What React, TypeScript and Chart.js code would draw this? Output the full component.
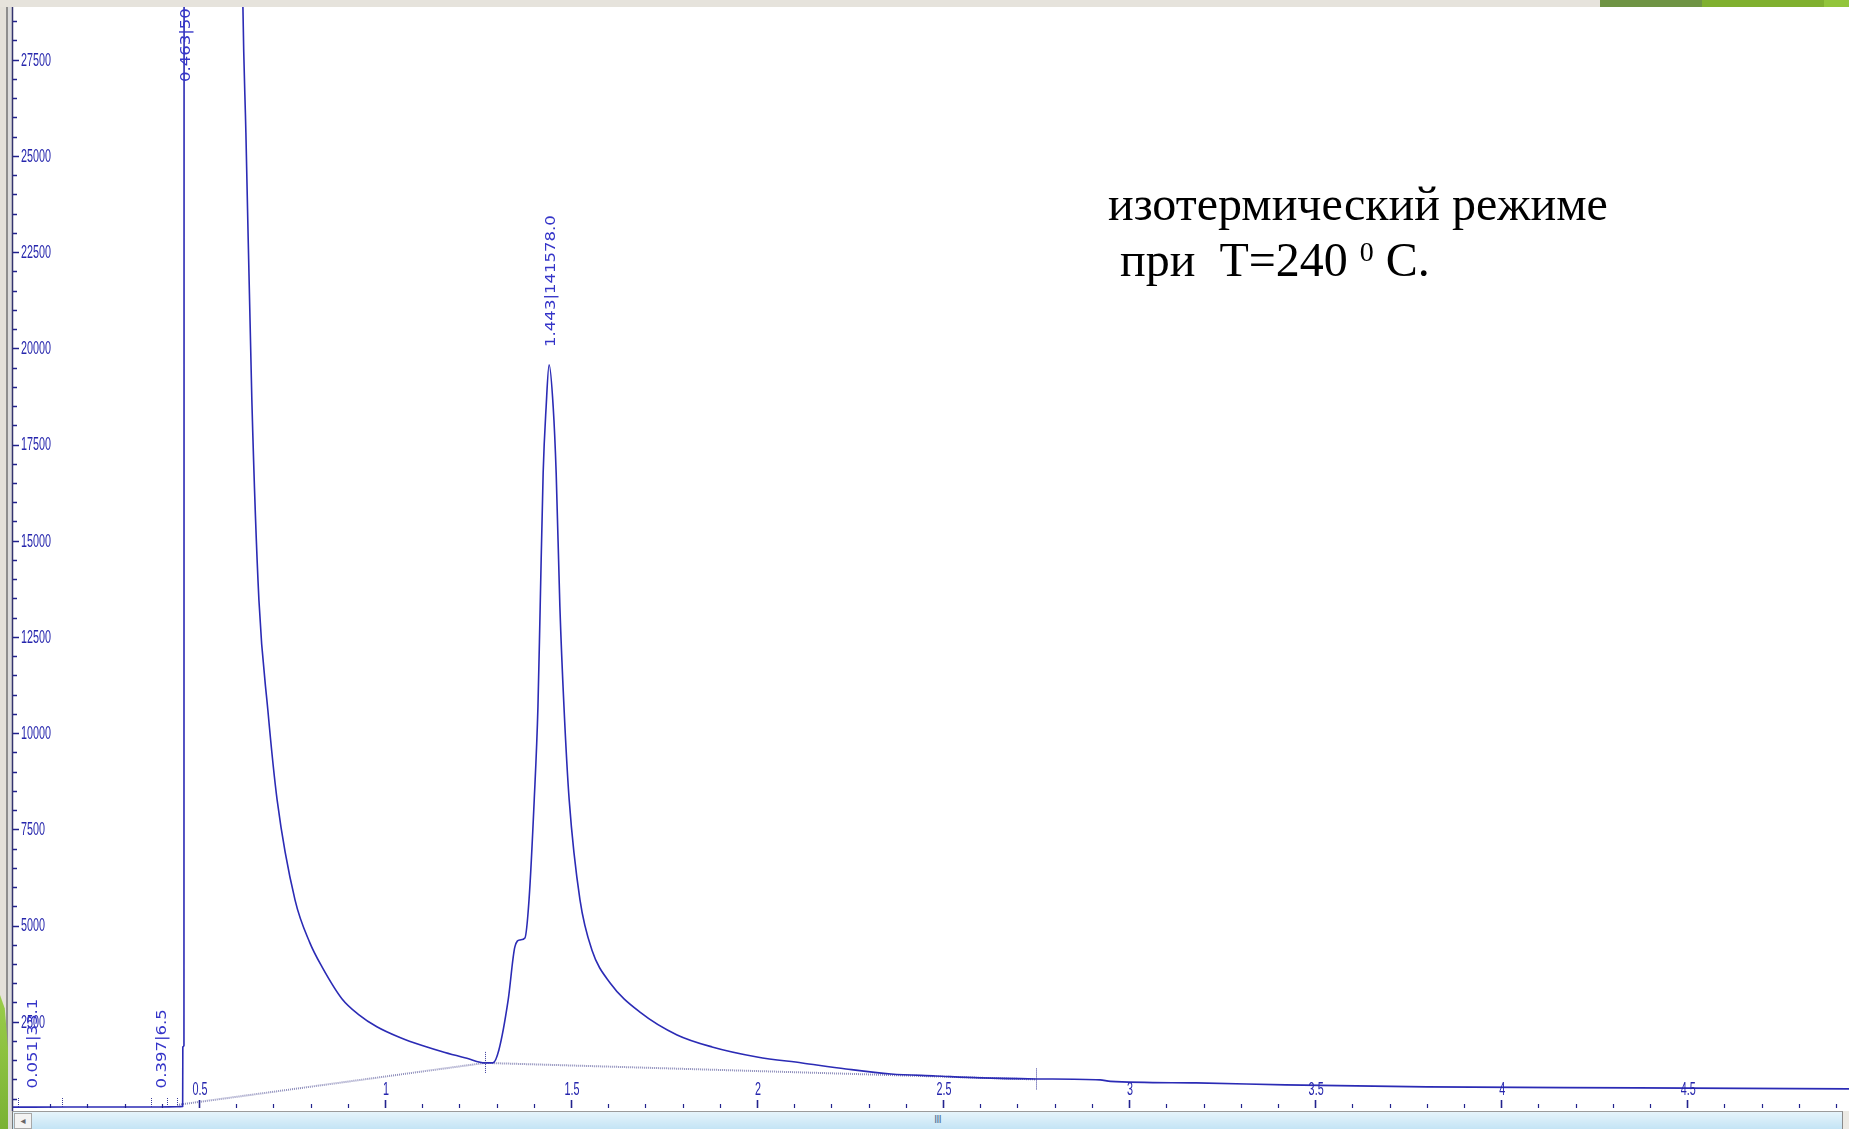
import React, { useEffect, useRef } from 'react';
import { Chart, registerables } from 'chart.js';

Chart.register(...registerables);

// ---- data ----
const signalTimes = [
  0.0, 0.05, 0.395, 0.44, 0.456, 0.4565, 0.4595, 0.46, 0.54, 0.618, 0.626, 0.642, 0.661, 0.685, 0.71,
  0.758, 0.798, 0.831, 0.884, 0.93, 0.978, 1.04, 1.1, 1.161, 1.22, 1.269, 1.29, 1.306, 1.331, 1.349,
  1.363, 1.376, 1.387, 1.401, 1.411, 1.417, 1.425, 1.433, 1.441, 1.452, 1.46, 1.47, 1.481, 1.495,
  1.524, 1.556, 1.605, 1.688, 1.785, 1.879, 2.0, 2.121, 2.239, 2.36, 2.48, 2.6, 2.75, 2.922, 2.95,
  3.18, 3.42, 3.8, 4.366, 4.935,
];
const signalValues = [
  280, 282, 284, 290, 300, 1845, 1880, 40000, 100000, 28870, 25600, 18660, 13460, 10600, 8260,
  5665, 4550, 3920, 3100, 2680, 2370, 2090, 1880, 1700, 1550, 1430, 1430, 1767, 3067, 4444,
  4626, 4678, 5665, 8264, 10681, 13280, 16762, 18477, 19569, 18477, 16762, 13280, 10681, 8264,
  5665, 4366, 3508, 2729, 2157, 1845, 1585, 1429, 1273, 1143, 1091, 1040, 1013, 988, 950,
  910, 858, 806, 780, 754,
];

const baselineTimes = [0.441, 1.269, 2.75];
const baselineValues = [338, 1430, 1000];

const peakTimes = [0.051, 0.397, 0.463, 1.443];
const peakApex = [300, 300, 100000, 19569];
const peakLabels = ['0.051|33.1', '0.397|6.5', '0.463|50', '1.443|141578.0'];

const markerTimes = [0.014, 0.132, 0.371, 0.415, 0.441];
const crossTimes = [1.269, 2.75];
const crossValues = [1430, 1000];

const xTickValues = [0.5, 1, 1.5, 2, 2.5, 3, 3.5, 4, 4.5];
const xTickLabels = ['0.5', '1', '1.5', '2', '2.5', '3', '3.5', '4', '4.5'];
const yTickValues = [2500, 5000, 7500, 10000, 12500, 15000, 17500, 20000, 22500, 25000, 27500];
const yTickLabels = ['2500', '5000', '7500', '10000', '12500', '15000', '17500', '20000', '22500', '25000', '27500'];

const X_MIN = 0;
const X_MAX = 4.935;
const Y_MIN = 180;
const Y_MAX = 28870;
const X_MINOR_STEP = 0.1;
const Y_MINOR_STEP = 500;

const LINE_COLOR = '#2b2bb5';
const AXIS_COLOR = '#22228e';
const LABEL_COLOR = '#2626ad';
const PEAK_LABEL_COLOR = '#3434c8';

function scaledText(ctx: CanvasRenderingContext2D, text: string, x: number, y: number, sx: number, sy: number) {
  ctx.save();
  ctx.translate(x, y);
  ctx.scale(sx, sy);
  ctx.fillText(text, 0, 0);
  ctx.restore();
}

const chromPlugin = {
  id: 'chromAxes',
  afterDatasetsDraw(chart: any) {
    const { ctx, chartArea: a, scales } = chart;
    const xs = scales.x;
    const ys = scales.y;
    ctx.save();

    // y axis line
    ctx.strokeStyle = '#34346e';
    ctx.lineWidth = 1.5;
    ctx.beginPath();
    ctx.moveTo(a.left - 0.5, a.top);
    ctx.lineTo(a.left - 0.5, a.bottom);
    ctx.stroke();

    // y ticks
    ctx.strokeStyle = AXIS_COLOR;
    ctx.lineWidth = 1.5;
    const nY = Math.floor(Y_MAX / Y_MINOR_STEP);
    for (let i = 1; i <= nY; i++) {
      const v = i * Y_MINOR_STEP;
      if (v < Y_MIN) continue;
      const py = Math.round(ys.getPixelForValue(v)) + 0.5;
      const major = yTickValues.includes(v);
      ctx.beginPath();
      ctx.moveTo(a.left, py);
      ctx.lineTo(a.left + (major ? 6 : 4), py);
      ctx.stroke();
    }

    // x ticks
    const nX = Math.floor(X_MAX / X_MINOR_STEP + 1e-6);
    for (let i = 1; i <= nX; i++) {
      const v = i * X_MINOR_STEP;
      const px = Math.round(xs.getPixelForValue(v)) + 0.5;
      const major = i % 5 === 0;
      ctx.lineWidth = major ? 1.6 : 1.2;
      ctx.beginPath();
      ctx.moveTo(px, a.bottom - 3);
      ctx.lineTo(px, a.bottom - 3 - (major ? 8 : 4));
      ctx.stroke();
    }

    // tick labels
    ctx.fillStyle = LABEL_COLOR;
    ctx.font = '18px "Liberation Sans", Arial, sans-serif';
    ctx.textAlign = 'left';
    ctx.textBaseline = 'middle';
    yTickValues.forEach((v, i) => {
      const py = ys.getPixelForValue(v);
      scaledText(ctx, yTickLabels[i], a.left + 8, py + 1, 0.6, 1);
    });
    ctx.textAlign = 'center';
    ctx.textBaseline = 'alphabetic';
    xTickValues.forEach((v, i) => {
      const px = xs.getPixelForValue(v);
      scaledText(ctx, xTickLabels[i], px + 1, a.bottom - 16, 0.6, 1);
    });

    // baseline markers (dotted)
    ctx.strokeStyle = '#3a3a9a';
    ctx.lineWidth = 1;
    ctx.setLineDash([1, 1]);
    markerTimes.forEach((t) => {
      const px = Math.round(xs.getPixelForValue(t)) + 0.5;
      ctx.beginPath();
      ctx.moveTo(px, a.bottom - 13);
      ctx.lineTo(px, a.bottom - 3);
      ctx.stroke();
    });
    crossTimes.forEach((t, i) => {
      const px = Math.round(xs.getPixelForValue(t)) + 0.5;
      const py = ys.getPixelForValue(crossValues[i]);
      ctx.beginPath();
      ctx.moveTo(px, py - 11);
      ctx.lineTo(px, py + 11);
      ctx.stroke();
    });
    ctx.setLineDash([]);

    // peak labels (rotated)
    ctx.beginPath();
    ctx.rect(a.left, a.top, a.right - a.left, a.bottom - a.top);
    ctx.clip();
    ctx.fillStyle = PEAK_LABEL_COLOR;
    ctx.font = '14px "DejaVu Sans", Verdana, sans-serif';
    ctx.textAlign = 'left';
    ctx.textBaseline = 'middle';
    peakTimes.forEach((t, i) => {
      const px = xs.getPixelForValue(t) + 1.5;
      const anchor = Math.max(ys.getPixelForValue(peakApex[i]) - 18, a.top + 75);
      const yStart = Math.min(anchor, a.bottom - 19);
      ctx.save();
      ctx.translate(px, yStart);
      ctx.rotate(-Math.PI / 2);
      ctx.scale(1.18, 1);
      ctx.fillText(peakLabels[i], 0, 0);
      ctx.restore();
    });

    ctx.restore();
  },
};

export default function App() {
  const canvasRef = useRef<HTMLCanvasElement | null>(null);

  useEffect(() => {
    document.body.style.margin = '0';
    document.body.style.background = '#ffffff';
    const canvas = canvasRef.current;
    if (!canvas) return;
    const chart = new Chart(canvas, {
      type: 'line',
      data: {
        datasets: [
          {
            label: 'signal',
            data: signalTimes.map((t, i) => ({ x: t, y: signalValues[i] })),
            borderColor: LINE_COLOR,
            borderWidth: 1.6,
            pointRadius: 0,
            cubicInterpolationMode: 'monotone',
            fill: false,
          },
          {
            label: 'baseline',
            data: baselineTimes.map((t, i) => ({ x: t, y: baselineValues[i] })),
            borderColor: '#8c8cba',
            borderWidth: 2,
            borderDash: [1, 1],
            pointRadius: 0,
            tension: 0,
            fill: false,
          },
        ],
      },
      options: {
        animation: false,
        responsive: false,
        maintainAspectRatio: false,
        devicePixelRatio: 1,
        layout: { padding: { left: 13, top: 7, right: 0, bottom: 18 } },
        plugins: { legend: { display: false }, tooltip: { enabled: false } },
        scales: {
          x: { type: 'linear', min: X_MIN, max: X_MAX, display: false },
          y: { type: 'linear', min: Y_MIN, max: Y_MAX, display: false },
        },
      },
      plugins: [chromPlugin],
    } as any);
    return () => chart.destroy();
  }, []);

  return (
    <div style={{ position: 'relative', width: 1849, height: 1129, overflow: 'hidden', background: '#ffffff' }}>
      {/* top band */}
      <div style={{ position: 'absolute', left: 0, top: 0, width: 1849, height: 7, background: '#e6e3dc' }} />
      <div style={{ position: 'absolute', left: 1600, top: 0, width: 102, height: 7, background: '#6f9444' }} />
      <div style={{ position: 'absolute', left: 1702, top: 0, width: 122, height: 7, background: '#80b02f' }} />
      <div style={{ position: 'absolute', left: 1824, top: 0, width: 25, height: 7, background: '#92c53b' }} />
      {/* left strip */}
      <div style={{ position: 'absolute', left: 0, top: 7, width: 6, height: 1122, background: '#e4e1da' }} />
      <div style={{ position: 'absolute', left: 6, top: 7, width: 2, height: 1122, background: '#8e8e8e' }} />
      <div style={{ position: 'absolute', left: 8, top: 7, width: 4, height: 1122, background: '#dcdcdc' }} />
      <div
        style={{
          position: 'absolute', left: 0, top: 995, width: 8, height: 134,
          background: 'linear-gradient(#9acd4a, #7ab233)',
          clipPath: 'polygon(0 0, 60% 10%, 100% 40%, 100% 100%, 0 100%)',
        }}
      />
      <canvas
        ref={canvasRef}
        width={1849}
        height={1129}
        style={{ position: 'absolute', left: 0, top: 0, width: 1849, height: 1129 }}
      />
      {/* scrollbar */}
      <div
        style={{
          position: 'absolute', left: 12, top: 1111, width: 1831, height: 18,
          borderTop: '1px solid #9b9b9b', borderLeft: '1px solid #7a7a7a', borderRight: '1px solid #8a8a8a',
          background: 'linear-gradient(#e6f4fb, #c4e4f5)', boxSizing: 'border-box',
        }}
      >
        <div
          style={{
            position: 'absolute', left: 1, top: 1, width: 18, height: 16, background: '#f3f3f3',
            border: '1px solid #a8a8a8', boxSizing: 'border-box', color: '#666', fontSize: 10,
            fontFamily: 'DejaVu Sans, sans-serif', lineHeight: '14px', textAlign: 'center',
          }}
        >
          ◂
        </div>
        <div
          style={{
            position: 'absolute', left: 921, top: 2, fontSize: 11, color: '#55789a',
            fontFamily: 'DejaVu Sans, sans-serif', letterSpacing: -1, lineHeight: '12px',
          }}
        >
          III
        </div>
      </div>
      <div style={{ position: 'absolute', left: 1843, top: 1111, width: 6, height: 18, background: '#eceae4' }} />
      {/* annotation */}
      <div
        style={{
          position: 'absolute', left: 1108, top: 176, fontFamily: '"Liberation Serif", "Times New Roman", serif',
          fontSize: 48, lineHeight: '56px', color: '#000', whiteSpace: 'pre',
        }}
      >
        <div>изотермический режиме</div>
        <div>
          {' при  T=240 '}
          <sup style={{ fontSize: 28, verticalAlign: '15px', lineHeight: 0 }}>0</sup>
          {' C.'}
        </div>
      </div>
    </div>
  );
}
